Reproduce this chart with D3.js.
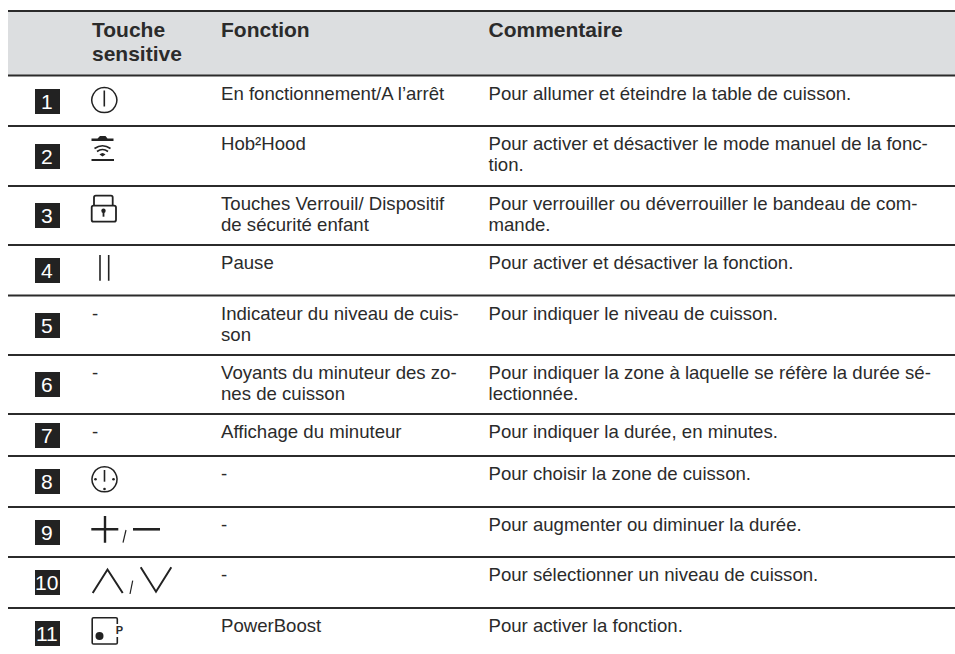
<html>
<head>
    <title>Bandeau de commande</title>
    <script src="https://d3js.org/d3.v7.min.js" charSet="utf-8"></script>
    <style>
        body { margin: 0; background: #fff; }
        text { font-family: "Liberation Sans", Arial, sans-serif; fill: #2b2b2b; }
    </style>
</head>
<body>
<script>

    // table content
    const headers = [["", ""], ["Touche", "sensitive"], ["Fonction"], ["Commentaire"]];
    const rowIds = ["1", "2", "3", "4", "5", "6", "7", "8", "9", "10", "11"];
    const icons = ["power", "hood", "lock", "pause", "-", "-", "-", "zone", "plusminus", "updown", "boost"];
    const fonctions = [
        ["En fonctionnement/A l’arrêt"],
        ["Hob²Hood"],
        ["Touches Verrouil/ Dispositif", "de sécurité enfant"],
        ["Pause"],
        ["Indicateur du niveau de cuis-", "son"],
        ["Voyants du minuteur des zo-", "nes de cuisson"],
        ["Affichage du minuteur"],
        ["-"],
        ["-"],
        ["-"],
        ["PowerBoost"]
    ];
    const commentaires = [
        ["Pour allumer et éteindre la table de cuisson."],
        ["Pour activer et désactiver le mode manuel de la fonc-", "tion."],
        ["Pour verrouiller ou déverrouiller le bandeau de com-", "mande."],
        ["Pour activer et désactiver la fonction."],
        ["Pour indiquer le niveau de cuisson."],
        ["Pour indiquer la zone à laquelle se réfère la durée sé-", "lectionnée."],
        ["Pour indiquer la durée, en minutes."],
        ["Pour choisir la zone de cuisson."],
        ["Pour augmenter ou diminuer la durée."],
        ["Pour sélectionner un niveau de cuisson."],
        ["Pour activer la fonction."]
    ];

    const width = 955;
    const height = 654;

    // layout of the grid
    const x = d3.scaleOrdinal().domain(["num", "touche", "fonction", "commentaire"]).range([35, 92, 221, 488.5]);
    const rowTop = d3.scaleOrdinal().domain(rowIds).range([75.5, 126, 186, 245, 295.5, 355, 414, 456, 507, 557, 608]);
    const boxTop = d3.scaleOrdinal().domain(rowIds).range([89, 144, 203, 258, 313, 372, 423, 469, 520, 570, 621]);
    const left = 8;
    const lineHeight = 21;

    const svg = d3.select("body").append("svg")
        .attr("width", width)
        .attr("height", height)
        .style("display", "block");

    svg.append("rect")
        .attr("x", left).attr("y", 11)
        .attr("width", width - left).attr("height", 64.5)
        .attr("fill", "#dcdee0");

    // rules
    svg.append("g").selectAll("line")
        .data([11].concat(rowIds.map(rowTop)))
        .enter()
        .append("line")
        .attr("x1", left).attr("x2", width)
        .attr("y1", d => d).attr("y2", d => d)
        .attr("stroke", "#2b2b2b")
        .attr("stroke-width", 1.8);

    // header
    const cols = ["num", "touche", "fonction", "commentaire"];
    headers.forEach((lines, c) => {
        svg.append("g").selectAll("text")
            .data(lines)
            .enter()
            .append("text")
            .attr("x", x(cols[c]))
            .attr("y", (d, i) => 36.5 + i * 24.4)
            .attr("font-size", 21)
            .attr("font-weight", "bold")
            .text(d => d);
    });

    const rows = svg.append("g").selectAll("g")
        .data(rowIds)
        .enter()
        .append("g");

    // number boxes
    rows.append("rect")
        .attr("x", x("num"))
        .attr("y", d => boxTop(d))
        .attr("width", 25)
        .attr("height", 25)
        .attr("fill", "#222");

    rows.append("text")
        .attr("x", x("num") + 11.8)
        .attr("y", d => boxTop(d) + 19.5)
        .attr("text-anchor", "middle")
        .attr("font-size", 21)
        .style("fill", "#fff")
        .text(d => d);

    const addLines = (sel, col, lines) => {
        sel.each(function (id, r) {
            d3.select(this).selectAll("text." + col)
                .data(lines[r])
                .enter()
                .append("text")
                .attr("class", col)
                .attr("x", x(col))
                .attr("y", (d, i) => rowTop(id) + 24.3 + i * lineHeight)
                .attr("font-size", 18.6)
                .text(d => d);
        });
    };

    addLines(rows, "fonction", fonctions);
    addLines(rows, "commentaire", commentaires);
    addLines(rows, "touche", icons.map(d => d === "-" ? ["-"] : []));

    // key glyphs, drawn relative to the top of their row
    const stroke = (g, d, w) => g.append("path")
        .attr("d", d)
        .attr("fill", "none")
        .attr("stroke", "#222")
        .attr("stroke-width", w);

    const glyphs = {
        power: g => {
            stroke(g, "M104.3 12a12.5 12.5 0 1 0 .01 0Z", 1.5);
            stroke(g, "M104.3 15V31", 1.6);
        },
        hood: g => {
            g.append("path").attr("d", "M100 10h5.5l2 2.5h6v2.5h-22v-2.5h6Z").attr("fill", "#222");
            stroke(g, "M94.5 22.5Q102.5 17 110.5 22.5", 1.7);
            stroke(g, "M97 25.5Q102.5 21.5 108 25.5", 1.7);
            g.append("path").attr("d", "M99.5 28.5Q102.5 25.5 105.5 28.5L102.5 30.5Z").attr("fill", "#222");
            stroke(g, "M91.5 34H114", 2);
        },
        lock: g => {
            stroke(g, "M94 19.7V11.5Q94 9.7 95.8 9.7H111Q112.7 9.7 112.7 11.5V19.7", 1.8);
            stroke(g, "M93.5 19.7H114Q116 19.7 116 21.5V33.7Q116 35.7 114 35.7H93.5Q91.7 35.7 91.7 33.7V21.5Q91.7 19.7 93.5 19.7Z", 1.8);
            g.append("circle").attr("cx", 103.5).attr("cy", 24.7).attr("r", 2.2).attr("fill", "#222");
            stroke(g, "M103.5 25V30.7", 1.8);
        },
        pause: g => {
            stroke(g, "M100 10V35.7M108.7 10V35.7", 1.6);
        },
        zone: g => {
            stroke(g, "M104.5 10.8a12.5 12.5 0 1 0 .01 0Z", 1.5);
            stroke(g, "M104.5 14V25.7", 1.6);
            g.selectAll("circle")
                .data([[95.5, 23.3], [113.5, 23.3], [104.5, 33]])
                .enter()
                .append("circle")
                .attr("cx", d => d[0]).attr("cy", d => d[1]).attr("r", 1.3)
                .attr("fill", "#222");
        },
        plusminus: g => {
            stroke(g, "M91.3 22.3H118.3M105 9V35.7", 2.4);
            stroke(g, "M123 35.7L126 23", 1.2);
            stroke(g, "M133 22.3H160", 2.6);
        },
        updown: g => {
            stroke(g, "M92.7 36L107.5 12.5L122.7 36", 2);
            stroke(g, "M130 37L132.7 23.6", 1.2);
            stroke(g, "M140.7 10.3L156 34.7L171.3 10.3", 2);
        },
        boost: g => {
            stroke(g, "M117.3 16V11Q117.3 9.7 116 9.7H93.5Q92.2 9.7 92.2 11V34.7Q92.2 36 93.5 36H116Q117.3 36 117.3 34.7V29", 1.6);
            g.append("circle").attr("cx", 99.5).attr("cy", 28).attr("r", 4).attr("fill", "#222");
            g.append("text")
                .attr("x", 115.8).attr("y", 26.2)
                .attr("font-size", 11)
                .attr("font-weight", "bold")
                .text("P");
        }
    };

    rows.each(function (id, r) {
        if (glyphs[icons[r]]) {
            const g = d3.select(this).append("g")
                .attr("transform", "translate(0," + rowTop(id) + ")");
            glyphs[icons[r]](g);
        }
    });

</script>
</body>
</html>
